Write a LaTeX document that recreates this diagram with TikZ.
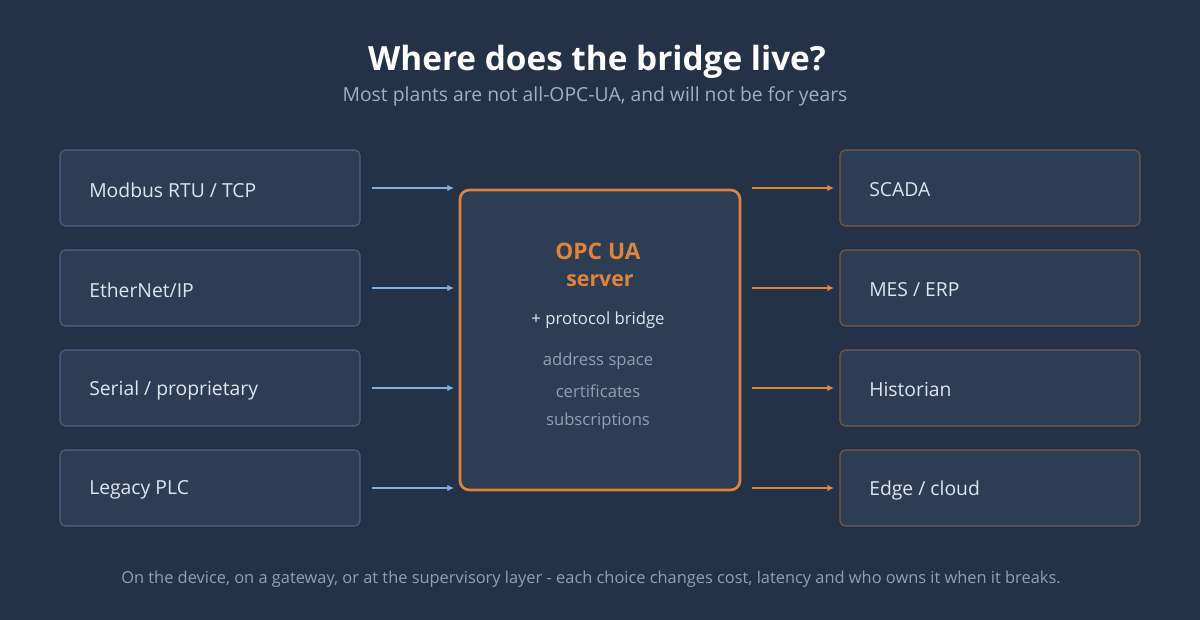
\documentclass[tikz,border=0pt]{standalone}
\usepackage{fontspec}
\setmainfont{Open Sans}
\usetikzlibrary{arrows.meta}
\definecolor{bg}{HTML}{233246}
\definecolor{boxf}{HTML}{2D3E54}
\definecolor{lbord}{HTML}{4A6282}
\definecolor{rbord}{HTML}{7A5A42}
\definecolor{blu}{HTML}{7FB0E0}
\definecolor{org}{HTML}{E0843A}
\definecolor{lab}{HTML}{DDE6F0}
\definecolor{gry}{HTML}{8FA0B5}
\definecolor{sub}{HTML}{9FB0C5}
\newcommand{\fs}[1]{\fontsize{#1}{#1}\selectfont}
\begin{document}
\begin{tikzpicture}[x=0.75pt,y=-0.75pt,
  lbox/.style={draw=lbord,fill=boxf,rounded corners=4pt,line width=0.8pt},
  rbox/.style={draw=rbord,fill=boxf,rounded corners=4pt,line width=0.8pt},
  lt/.style={anchor=west,inner sep=0pt,text=lab,font=\fs{14.5pt}},
  la/.style={draw=blu,line width=2pt,-{Latex[length=5pt,width=5pt]}},
  ra/.style={draw=org,line width=2pt,-{Latex[length=5pt,width=5pt]}},
  gt/.style={text=gry,font=\fs{12.5pt}}]
\fill[bg] (0,0) rectangle (1200,620);
\useasboundingbox (0,0) rectangle (1200,620);
\node[text=white,font=\bfseries\fs{25pt}] (title) at (597,62) {Where does the bridge live?};
\node[text=sub,font=\fs{14.5pt}] (subt) at (595,96) {Most plants are not all-OPC-UA, and will not be for years};
\draw[draw=org,fill=boxf,line width=2pt,rounded corners=7pt] (460,190) rectangle (740,490);
\node[text=org,font=\bfseries\fs{17pt}] (c1) at (598,251) {OPC UA};
\node[text=org,font=\bfseries\fs{16pt}] (c2) at (600,281) {server};
\node[text=lab,font=\fs{12.5pt}] (c3) at (598,320) {+ protocol bridge};
\node[gt] (c4) at (598,361) {address space};
\node[gt] (c5) at (598,391) {certificates};
\node[gt] (c6) at (598,421) {subscriptions};
\foreach \i/\y/\l/\r in {1/188/{Modbus RTU / TCP}/{SCADA},2/288/{EtherNet/IP}/{MES / ERP},3/388/{Serial / proprietary}/{Historian},4/488/{Legacy PLC}/{Edge / cloud}}{
  \draw[lbox] (60,\y-38) rectangle (360,\y+38);
  \node[lt] (l\i) at (89,\y+2) {\l};
  \draw[rbox] (840,\y-38) rectangle (1140,\y+38);
  \node[lt] (r\i) at (869,\y+2) {\r};
  \coordinate (la\i) at (372,\y); \coordinate (lb\i) at (454,\y);
  \coordinate (ra\i) at (752,\y); \coordinate (rb\i) at (834,\y);
  \draw[la] (la\i) -- (lb\i);
  \draw[ra] (ra\i) -- (rb\i);
}
\node[gt,font=\fs{12.3pt}] (foot) at (591,579) {On the device, on a gateway, or at the supervisory layer - each choice changes cost, latency and who owns it when it breaks.};
\end{tikzpicture}
\end{document}
